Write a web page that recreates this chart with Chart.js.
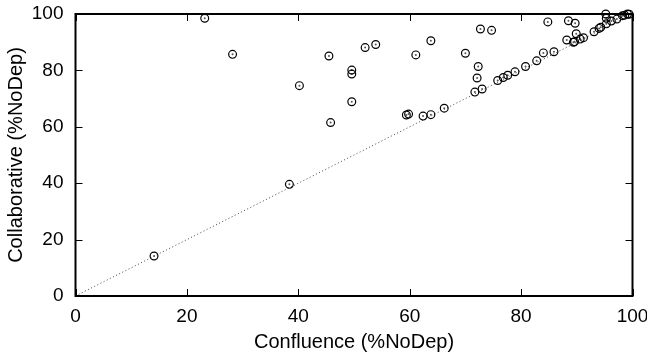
<!DOCTYPE html>
<html>
<head>
<meta charset="utf-8">
<script src="https://cdn.jsdelivr.net/npm/chart.js@4.4.1/dist/chart.umd.min.js"></script>
<style>
html,body{margin:0;padding:0;background:#fff;}
#wrap{width:647px;height:356px;}
</style>
</head>
<body>
<div id="wrap"><canvas id="c" width="647" height="356"></canvas></div>
<script>
// Confluence (%NoDep) values (x) and Collaborative (%NoDep) values (y)
const confluence = [14.1, 38.4, 23.2, 28.2, 40.2, 45.5, 45.8, 49.6, 49.6, 49.6,
  52.0, 53.9, 61.1, 63.8, 70.0, 72.7, 74.7, 72.3, 72.1, 71.7,
  73.0, 59.4, 59.8, 62.4, 63.8, 66.2, 75.8, 76.8, 77.6, 78.9,
  80.8, 82.8, 84.0, 85.9, 84.8, 88.5, 89.7, 88.2, 89.4, 89.6,
  89.9, 90.6, 91.2, 93.1, 94.0, 94.3, 95.2, 95.3, 95.3, 96.2,
  97.2, 98.2, 98.6, 99.1, 99.4];
const collaborative = [14.2, 39.6, 98.5, 85.7, 74.6, 85.1, 61.5, 80.1, 78.7, 68.9,
  88.1, 89.2, 85.5, 90.5, 86.1, 94.7, 94.2, 81.4, 77.3, 72.3,
  73.4, 64.2, 64.5, 63.8, 64.3, 66.6, 76.4, 77.5, 78.3, 79.5,
  81.4, 83.4, 86.2, 86.6, 97.2, 97.6, 96.7, 90.8, 90.0, 90.2,
  93.0, 91.1, 91.6, 93.7, 94.9, 95.3, 100.0, 98.5, 96.5, 97.5,
  98.2, 99.4, 99.6, 100.0, 99.9];
const tickValues = [0, 20, 40, 60, 80, 100];
const diagonal = [0, 100];

const points = confluence.map((x, i) => ({x: x, y: collaborative[i]}));
const diagPts = diagonal.map(v => ({x: v, y: v}));

const FONT = "'Liberation Sans', Arial, sans-serif";

const framePlugin = {
  id: 'frame',
  afterDraw(chart) {
    const {ctx, chartArea: a} = chart;
    const xs = chart.scales.x, ys = chart.scales.y;
    ctx.save();
    ctx.strokeStyle = '#000';
    ctx.lineWidth = 1;
    const tl = 7;
    ctx.beginPath();
    tickValues.forEach(v => {
      const px = Math.round(xs.getPixelForValue(v)) + 0.5;
      ctx.moveTo(px, a.bottom); ctx.lineTo(px, a.bottom - tl);
      ctx.moveTo(px, a.top); ctx.lineTo(px, a.top + tl);
      const py = Math.round(ys.getPixelForValue(v)) + 0.5;
      ctx.moveTo(a.left, py); ctx.lineTo(a.left + tl, py);
      ctx.moveTo(a.right, py); ctx.lineTo(a.right - tl, py);
    });
    ctx.stroke();
    ctx.lineWidth = 2;
    ctx.strokeRect(a.left, a.top, a.right - a.left, a.bottom - a.top);
    ctx.restore();
  }
};

function zeroPad(s) {
  s.paddingLeft = 0; s.paddingRight = 0; s.paddingTop = 0; s.paddingBottom = 0;
}

new Chart(document.getElementById('c'), {
  type: 'scatter',
  data: {
    datasets: [
      {
        type: 'line',
        data: diagPts,
        borderColor: '#444',
        borderWidth: 1,
        borderDash: [1, 2.5],
        pointRadius: 0,
        fill: false,
        order: 3
      },
      {
        data: points,
        pointRadius: 1,
        pointBackgroundColor: '#555',
        pointBorderWidth: 0,
        pointBorderColor: 'rgba(0,0,0,0)',
        clip: false,
        order: 2
      },
      {
        data: points,
        pointRadius: 3.9,
        pointBorderColor: '#000',
        pointBackgroundColor: 'rgba(0,0,0,0)',
        pointBorderWidth: 1.2,
        clip: false,
        order: 1
      }
    ]
  },
  options: {
    responsive: false,
    animation: false,
    devicePixelRatio: 1,
    layout: {padding: {top: 14, right: 14.5, left: 0, bottom: 0}},
    plugins: {legend: {display: false}, tooltip: {enabled: false}},
    scales: {
      x: {
        type: 'linear', min: 0, max: 100,
        afterFit(s) { s.height = 60; zeroPad(s); },
        afterBuildTicks(s) { s.ticks = tickValues.map(v => ({value: v})); },
        grid: {display: false, drawTicks: false},
        border: {display: false},
        ticks: {color: '#000', font: {family: FONT, size: 19}, padding: 9, maxRotation: 0},
        title: {display: true, text: 'Confluence (%NoDep)', color: '#000',
                font: {family: FONT, size: 20}, padding: {top: 0, bottom: 2}}
      },
      y: {
        type: 'linear', min: 0, max: 100,
        afterFit(s) { s.width = 75.5; zeroPad(s); },
        afterBuildTicks(s) { s.ticks = tickValues.map(v => ({value: v})); },
        grid: {display: false, drawTicks: false},
        border: {display: false},
        ticks: {color: '#000', font: {family: FONT, size: 19}, padding: 12},
        title: {display: true, text: 'Collaborative (%NoDep)', color: '#000',
                font: {family: FONT, size: 20}, padding: {top: 4, bottom: 0}}
      }
    }
  },
  plugins: [framePlugin]
});
</script>
</body>
</html>
